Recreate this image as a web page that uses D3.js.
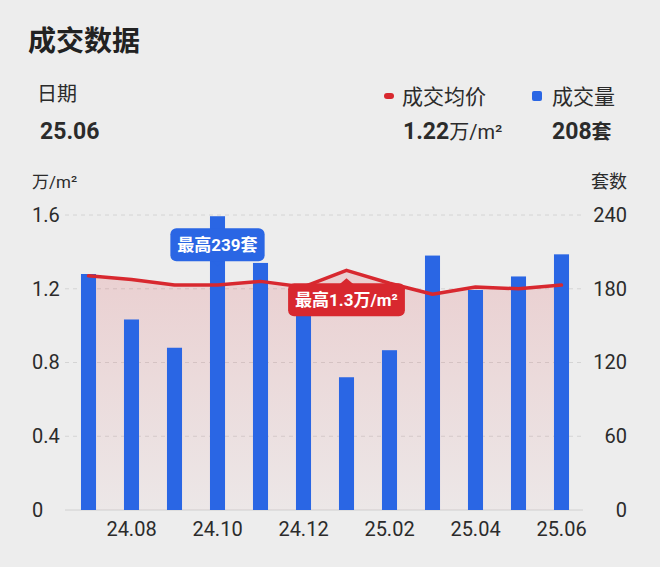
<!DOCTYPE html>
<html>
<head>
<meta charset="utf-8">
<script src="https://cdn.jsdelivr.net/npm/d3@7"></script>
<style>
  body { margin: 0; background: #ededed; }
  text { font-family: Roboto, "Noto Sans CJK SC", sans-serif; }
</style>
</head>
<body>
<script>
//chart data
var months = ["24.07","24.08","24.09","24.10","24.11","24.12","25.01","25.02","25.03","25.04","25.05","25.06"];
var volume = [192,155,132,239,201,170,108,130,207,179,190,208]; //成交量 (套)
var price = [1.27,1.25,1.22,1.22,1.24,1.21,1.30,1.23,1.17,1.21,1.20,1.22]; //成交均价 (万/m²)
var priceTicks = [0,0.4,0.8,1.2,1.6];
var volumeTicks = [0,60,120,180,240];
var xTickLabels = ["24.08","24.10","24.12","25.02","25.04","25.06"];

var w = 660, h = 567;
var red = "#d8282f", blue = "#2a66e4", ink = "#2b2b2b";

var svg = d3.select("body").append("svg")
    .attr("width", w)
    .attr("height", h)
    .style("background", "#ededed");

//scales
var x = d3.scaleBand()
    .domain(months)
    .range([67, 583])
    .paddingInner(0.65)
    .paddingOuter(0.325);
var cx = function(d){ return x(d) + x.bandwidth() / 2; };

var yL = d3.scaleLinear().domain([0, 1.6]).range([510, 215]);
var yR = d3.scaleLinear().domain([0, 240]).range([510, 215]);

//header
svg.append("text").attr("x", 28).attr("y", 51)
    .style("font-size", "28px").style("font-weight", "bold").style("fill", "#222")
    .text("成交数据");
svg.append("text").attr("x", 37).attr("y", 101)
    .style("font-size", "20px").style("fill", ink)
    .text("日期");

var last = months.length - 1;
svg.append("text").attr("x", 40).attr("y", 139)
    .style("font-size", "23px").style("font-weight", "bold").style("fill", ink)
    .text(months[last]);

//legend
svg.append("rect").attr("x", 384).attr("y", 93).attr("width", 10).attr("height", 6)
    .attr("rx", 3).style("fill", red);
svg.append("text").attr("x", 402).attr("y", 104)
    .style("font-size", "21px").style("fill", ink)
    .text("成交均价");
svg.append("rect").attr("x", 532).attr("y", 91).attr("width", 10).attr("height", 10)
    .attr("rx", 2).style("fill", blue);
svg.append("text").attr("x", 552).attr("y", 104)
    .style("font-size", "21px").style("fill", ink)
    .text("成交量");

var priceNow = svg.append("text").attr("x", 403).attr("y", 139).style("fill", ink);
priceNow.append("tspan").style("font-size", "23px").style("font-weight", "bold")
    .text(d3.format(".2f")(price[last]));
priceNow.append("tspan").style("font-size", "20px").text("万/m²");

var volNow = svg.append("text").attr("x", 552).attr("y", 139).style("fill", ink);
volNow.append("tspan").style("font-size", "23px").style("font-weight", "bold")
    .text(volume[last]);
volNow.append("tspan").style("font-size", "20px").style("font-weight", "bold").text("套");

//axis units
svg.append("text").attr("x", 32).attr("y", 188)
    .style("font-size", "17px").style("fill", ink)
    .text("万/m²");
svg.append("text").attr("x", 627).attr("y", 188).attr("text-anchor", "end")
    .style("font-size", "18px").style("fill", ink)
    .text("套数");

//grid lines
svg.selectAll(".grid")
    .data(priceTicks.slice(1))
    .enter()
    .append("line")
    .attr("class", "grid")
    .attr("x1", 65).attr("x2", 583)
    .attr("y1", function(d){ return yL(d); })
    .attr("y2", function(d){ return yL(d); })
    .style("stroke", "#d4d4d4")
    .style("stroke-dasharray", "4,4");
svg.append("line")
    .attr("x1", 65).attr("x2", 583)
    .attr("y1", yL(0)).attr("y2", yL(0))
    .style("stroke", "#d0d0d0");

//left and right axes, only labels
var leftAxis = svg.append("g")
    .attr("transform", "translate(32,0)")
    .call(d3.axisRight(yL).tickValues(priceTicks).tickSize(0).tickPadding(0)
        .tickFormat(function(d){ return d === 0 ? "0" : d3.format(".1f")(d); }));
var rightAxis = svg.append("g")
    .attr("transform", "translate(627,0)")
    .call(d3.axisLeft(yR).tickValues(volumeTicks).tickSize(0).tickPadding(0));
svg.selectAll(".domain").remove();
svg.selectAll(".tick text")
    .style("font-size", "20px")
    .style("fill", ink)
    .style("font-family", "Roboto, sans-serif");

//x axis labels
var xAxis = svg.append("g")
    .attr("transform", "translate(0,522)")
    .call(d3.axisBottom(x).tickValues(xTickLabels).tickSize(0).tickPadding(0));
xAxis.select(".domain").remove();
xAxis.selectAll("text")
    .style("font-size", "20px")
    .style("fill", ink)
    .style("font-family", "Roboto, sans-serif");

//area gradient under the price line
var defs = svg.append("defs");
var grad = defs.append("linearGradient")
    .attr("id", "areaFill")
    .attr("x1", 0).attr("y1", 0).attr("x2", 0).attr("y2", 1);
grad.append("stop").attr("offset", "0%").attr("stop-color", red).attr("stop-opacity", 0.15);
grad.append("stop").attr("offset", "100%").attr("stop-color", red).attr("stop-opacity", 0.03);

var area = d3.area()
    .x(function(d, i){ return cx(months[i]); })
    .y0(yL(0))
    .y1(function(d){ return yL(d); });
svg.append("path")
    .datum(price)
    .attr("d", area)
    .style("fill", "url(#areaFill)");

//bars
svg.selectAll(".bar")
    .data(volume)
    .enter()
    .append("rect")
    .attr("class", "bar")
    .attr("x", function(d, i){ return x(months[i]); })
    .attr("width", x.bandwidth())
    .attr("y", function(d){ return yR(d); })
    .attr("height", function(d){ return yR(0) - yR(d); })
    .style("fill", blue);

//price line
var line = d3.line()
    .x(function(d, i){ return cx(months[i]); })
    .y(function(d){ return yL(d); });
svg.append("path")
    .datum(price)
    .attr("d", line)
    .style("fill", "none")
    .style("stroke", red)
    .style("stroke-width", 3.5)
    .style("stroke-linejoin", "round")
    .style("stroke-linecap", "round");

//max callouts
function callout(px, top, label, color, pointUp){
    var g = svg.append("g");
    var t = g.append("text")
        .attr("x", px).attr("y", top + 23)
        .attr("text-anchor", "middle")
        .style("font-size", "17px")
        .style("font-weight", "bold")
        .style("fill", "#fff")
        .text(label);
    var tw = t.node().getComputedTextLength();
    var bw = tw + 14, bh = 33;
    if(pointUp){
        g.insert("path", "text")
            .attr("d", "M" + (px - 7) + "," + (top + 1) + "L" + px + "," + (top - 5) + "L" + (px + 7) + "," + (top + 1) + "Z")
            .style("fill", color);
    } else {
        g.insert("path", "text")
            .attr("d", "M" + (px - 6) + "," + (top + bh - 1) + "L" + px + "," + (top + bh + 5) + "L" + (px + 6) + "," + (top + bh - 1) + "Z")
            .style("fill", color);
    }
    g.insert("rect", "text")
        .attr("x", px - bw / 2).attr("y", top)
        .attr("width", bw).attr("height", bh)
        .attr("rx", 6)
        .style("fill", color);
}

var iv = d3.maxIndex(volume);
callout(cx(months[iv]), yR(volume[iv]) + 12, "最高" + volume[iv] + "套", blue, false);

var ip = d3.maxIndex(price);
callout(cx(months[ip]), yL(price[ip]) + 13, "最高" + price[ip] + "万/m²", red, true);
</script>
</body>
</html>
